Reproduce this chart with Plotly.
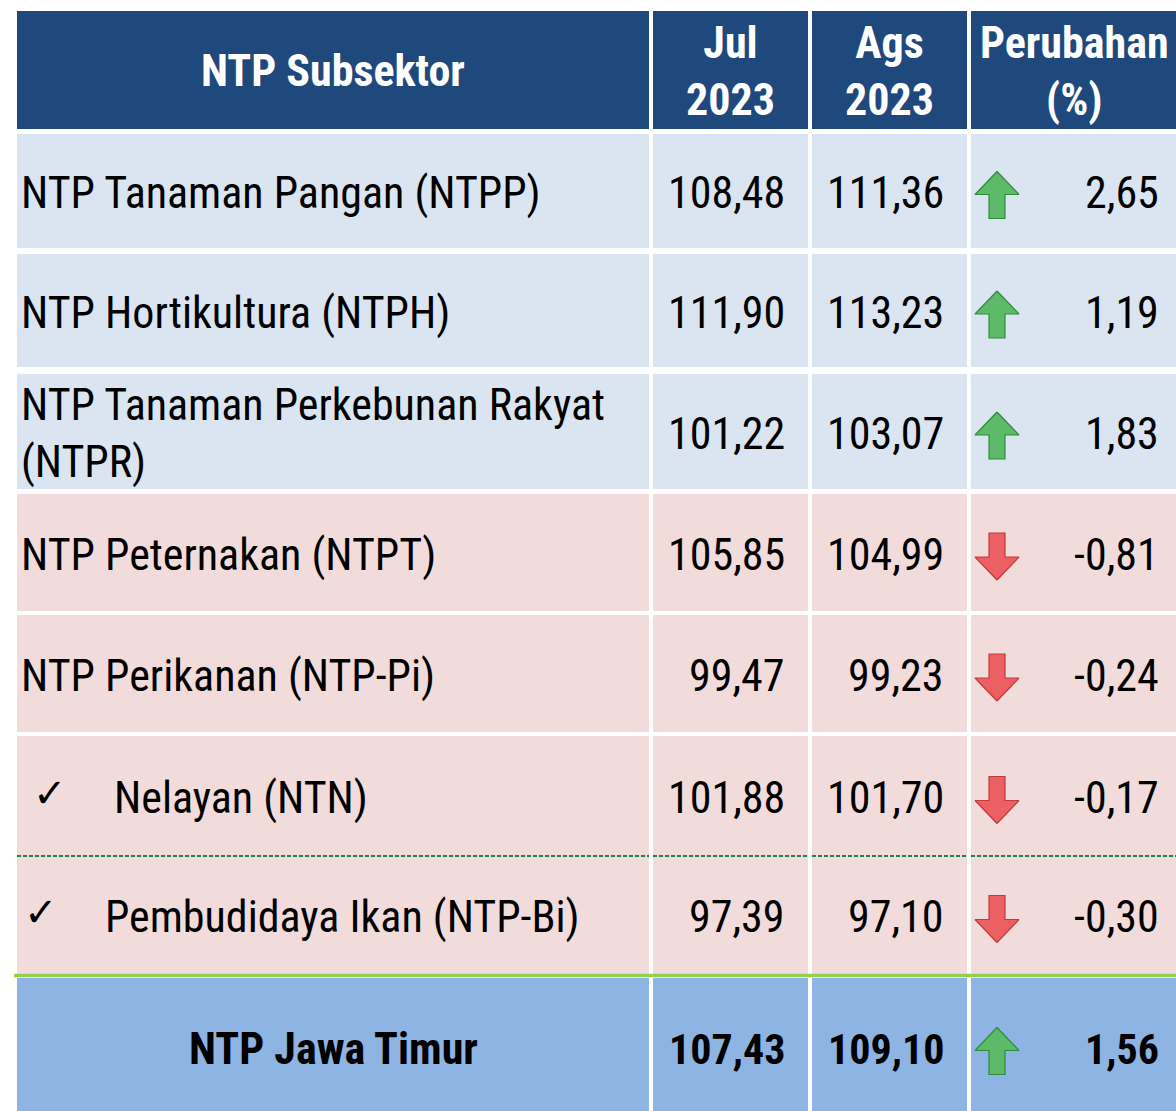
import plotly.graph_objects as go

# ---------------- data ----------------
headers = ["NTP Subsektor", "Jul<br>2023", "Ags<br>2023", "Perubahan<br>(%)"]
labels = [
    "NTP Tanaman Pangan (NTPP)",
    "NTP Hortikultura (NTPH)",
    "NTP Tanaman Perkebunan Rakyat<br>(NTPR)",
    "NTP Peternakan (NTPT)",
    "NTP Perikanan (NTP-Pi)",
    "Nelayan (NTN)",
    "Pembudidaya Ikan (NTP-Bi)",
    "NTP Jawa Timur",
]
jul_2023 = [108.48, 111.90, 101.22, 105.85, 99.47, 101.88, 97.39, 107.43]
ags_2023 = [111.36, 113.23, 103.07, 104.99, 99.23, 101.70, 97.10, 109.10]
perubahan = [2.65, 1.19, 1.83, -0.81, -0.24, -0.17, -0.30, 1.56]

# ---------------- layout / style ----------------
W, H = 1176, 1111
COL_X0 = [17, 653, 812, 971]
COL_X1 = [649, 808, 967, 1185]
HEAD_Y = (11, 129)
ROW_Y = [(134, 248), (254, 367), (374, 489), (494, 611), (615, 732),
         (736, 856), (856, 974), (978, 1125)]
ROW_KIND = ["blue", "blue", "blue", "pink", "pink", "pink", "pink", "total"]
SUB_ROWS = {5: (50, 112), 6: (41, 103)}  # check-mark x, label x

C_HEAD = "#1F497D"
C_FILL = {"blue": "#DBE5F1", "pink": "#F2DCDB", "total": "#8EB4E3"}
C_GREEN_LINE = "#92D050"
FONT = "Liberation Sans Narrow, Arial Narrow, Roboto Condensed, DejaVu Sans Condensed, sans-serif"
FS = 44
DY = 2  # small vertical text offset


def fmt(v):
    return f"{v:.2f}".replace(".", ",")


fig = go.Figure()
shapes = []
ann = []

# header cells
for i, h in enumerate(headers):
    shapes.append(dict(type="rect", xref="x", yref="y", x0=COL_X0[i], x1=COL_X1[i],
                       y0=HEAD_Y[0], y1=HEAD_Y[1], fillcolor=C_HEAD, line_width=0, layer="below"))
    ann.append(dict(x=(COL_X0[i] + min(COL_X1[i], W)) / 2 + (0 if i < 3 else 1),
                    y=(HEAD_Y[0] + HEAD_Y[1]) / 2 + 1, text=f"<b>{h}</b>",
                    xanchor="center", yanchor="middle", showarrow=False,
                    font=dict(family=FONT, size=44, color="white")))

# body cells
for r, (y0, y1) in enumerate(ROW_Y):
    kind = ROW_KIND[r]
    for c in range(4):
        shapes.append(dict(type="rect", xref="x", yref="y", x0=COL_X0[c], x1=COL_X1[c],
                           y0=y0, y1=y1, fillcolor=C_FILL[kind], line_width=0, layer="below"))
    yc = (y0 + min(y1, 1116)) / 2
    bold = kind == "total"
    wrap = (lambda s: f"<b>{s}</b>") if bold else (lambda s: s)
    nfs = 42 if bold else FS
    # label
    if kind == "total":
        ann.append(dict(x=(COL_X0[0] + COL_X1[0]) / 2, y=yc + DY, text=wrap(labels[r]),
                        xanchor="center", yanchor="middle", showarrow=False,
                        font=dict(family=FONT, size=FS, color="black")))
    elif r in SUB_ROWS:
        cx, lx = SUB_ROWS[r]
        ann.append(dict(x=cx, y=yc - 3, text="<b>✓</b>", xanchor="center", yanchor="middle",
                        showarrow=False, font=dict(family="DejaVu Sans", size=40, color="black")))
        ann.append(dict(x=lx, y=yc + DY, text=labels[r], xanchor="left", yanchor="middle",
                        showarrow=False, font=dict(family=FONT, size=FS, color="black")))
    else:
        ann.append(dict(x=19, y=yc + DY, text=labels[r], xanchor="left", yanchor="middle",
                        showarrow=False, align="left",
                        font=dict(family=FONT, size=FS, color="black")))
    # numbers
    for c, vals in ((1, jul_2023), (2, ags_2023)):
        ann.append(dict(x=COL_X1[c] - 21, y=yc + DY, text=wrap(fmt(vals[r])),
                        xanchor="right", yanchor="middle", showarrow=False,
                        font=dict(family=FONT, size=nfs, color="black")))
    ann.append(dict(x=1161, y=yc + DY, text=wrap(fmt(perubahan[r])),
                    xanchor="right", yanchor="middle", showarrow=False,
                    font=dict(family=FONT, size=nfs, color="black")))

    # arrow
    ax, ay = 997, yc + 4
    hw, sw, hh, half = 22, 8, 23, 23.5
    if perubahan[r] >= 0:
        xs = [ax, ax + hw, ax + sw, ax + sw, ax - sw, ax - sw, ax - hw, ax]
        ys = [ay - half, ay - half + hh, ay - half + hh, ay + half, ay + half,
              ay - half + hh, ay - half + hh, ay - half]
        fc, lc = "#5CBA68", "#2E8B3A"
    else:
        xs = [ax, ax + hw, ax + sw, ax + sw, ax - sw, ax - sw, ax - hw, ax]
        ys = [ay + half, ay + half - hh, ay + half - hh, ay - half, ay - half,
              ay + half - hh, ay + half - hh, ay + half]
        fc, lc = "#EC6064", "#C23A3A"
    fig.add_trace(go.Scatter(x=xs, y=ys, mode="lines", fill="toself", fillcolor=fc,
                             line=dict(color=lc, width=1.2), hoverinfo="skip",
                             showlegend=False))

# dotted line between Nelayan and Pembudidaya
for c in range(4):
    shapes.append(dict(type="line", xref="x", yref="y", x0=COL_X0[c], x1=COL_X1[c],
                       y0=ROW_Y[5][1], y1=ROW_Y[5][1],
                       line=dict(color="#1E8449", width=2, dash="4px,2px")))
# green separator above total
shapes.append(dict(type="line", xref="x", yref="y", x0=14, x1=W + 5,
                   y0=975.5, y1=975.5, line=dict(color=C_GREEN_LINE, width=3.5)))

fig.update_layout(
    width=W, height=H, margin=dict(l=0, r=0, t=0, b=0),
    paper_bgcolor="white", plot_bgcolor="white",
    xaxis=dict(range=[0, W], visible=False, fixedrange=True),
    yaxis=dict(range=[H, 0], visible=False, fixedrange=True),
    shapes=shapes, annotations=ann, showlegend=False,
)

fig.write_html("out.html", config={"displayModeBar": False},
               post_script="document.body.style.margin='0';document.body.style.overflow='hidden';")
